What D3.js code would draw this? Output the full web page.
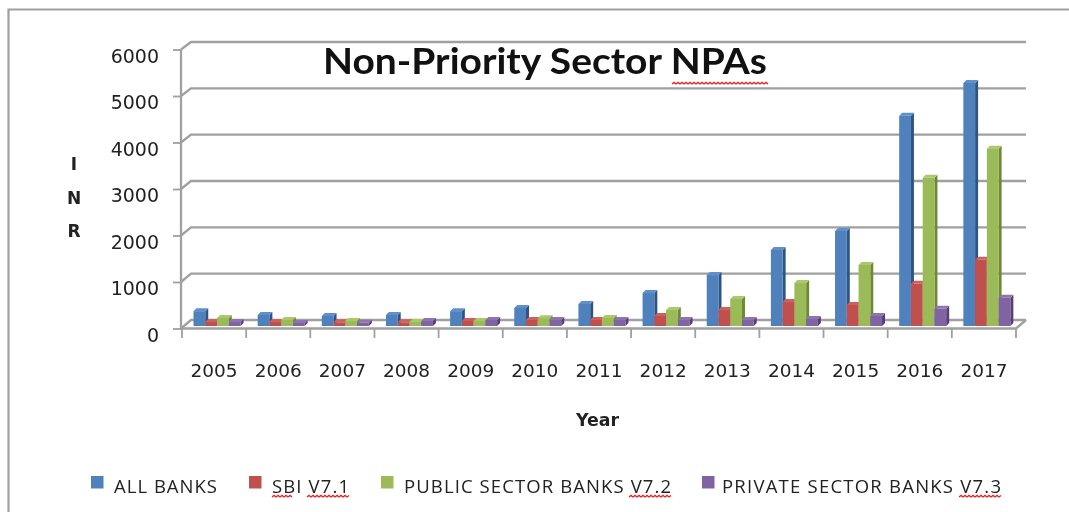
<!DOCTYPE html>
<html><head><meta charset="utf-8">
<script src="https://cdn.jsdelivr.net/npm/d3@7/dist/d3.min.js"></script>
<style>html,body{margin:0;padding:0;background:#fff;overflow:hidden}svg{display:block;filter:blur(.6px)}</style>
</head><body><svg id="c" width="1069" height="512"></svg>
<script>
const years=["2005","2006","2007","2008","2009","2010","2011","2012","2013","2014","2015","2016","2017"];
const allBanks=[320,238,216,238,320,390,475,712,1100,1641,2052,4540,5250];
const sbi=[86,86,80,80,110,130,130,216,345,518,454,910,1430];
const publicSector=[173,130,108,86,110,170,173,345,583,928,1317,3200,3830];
const privateSector=[86,65,70,108,130,130,130,130,130,150,216,370,610];
const seriesNames=["ALL BANKS","SBI V7.1","PUBLIC SECTOR BANKS V7.2","PRIVATE SECTOR BANKS V7.3"];
const seriesValues=[allBanks,sbi,publicSector,privateSector];
const colors=["#4F81BD","#C0504D","#9BBB59","#8064A2"];
const sideColors=["#2f5482","#8a3532","#6c8a35","#553f75"];
const topColors=["#5f90cb","#cc625f","#aac96b","#8f74b0"];
const yTicks=[0,1000,2000,3000,4000,5000,6000];
const titleText="Non-Priority Sector NPAs";
const xTitle="Year", yTitleLetters=["I","N","R"];

const svg=d3.select("#c");
const grid="#a0a0a0";
const yFront=d3.scaleLinear().domain([0,6000]).range([328.5,49.5]);
const yBack=d3.scaleLinear().domain([0,6000]).range([320,42]);
const yBar=d3.scaleLinear().domain([0,6000]).range([326,48.2]);
const x=d3.scaleBand().domain(years).range([182,1016]);
const inner=d3.scaleBand().domain(d3.range(4)).range([11.5,58.5]);

// frame
svg.append("path").attr("d","M1069,9.5H8.5V512").attr("fill","none").attr("stroke","#a0a0a0").attr("stroke-width",2.2);

// walls
const g=svg.append("g");
g.selectAll("path.grid").data(yTicks).join("path").attr("class","grid")
 .attr("d",t=>`M181,${yFront(t)}L191,${yBack(t)}H1026`)
 .attr("fill","none").attr("stroke",grid).attr("stroke-width",2.3);
g.append("path").attr("d",`M181,${yFront(6000)}V${yFront(0)}H1016L1026,${yBack(0)}`)
 .attr("fill","none").attr("stroke",grid).attr("stroke-width",2.3);

// axes
const ax=svg.append("g").attr("transform","translate(181,0)")
 .call(d3.axisLeft(yFront).tickValues(yTicks).tickSize(8).tickPadding(14).tickFormat(d3.format("d")));
ax.select(".domain").remove();
ax.selectAll("line").attr("stroke",grid).attr("stroke-width",1.8);
ax.selectAll("text").attr("font-family","DejaVu Sans").attr("font-size",19).attr("fill","#222").attr("dy","0.68em").attr("dx",0);

const bx=svg.append("g").attr("transform","translate(0,328)")
 .call(d3.axisBottom(x).tickSize(0).tickPadding(36));
bx.select(".domain").remove();
bx.selectAll("line").remove();
bx.selectAll("text").attr("font-family","DejaVu Sans").attr("font-size",18.5).attr("fill","#222");
svg.append("g").selectAll("line").data(years.concat(["end"])).join("line")
 .attr("x1",d=>d==="end"?x.range()[1]:x(d)).attr("x2",d=>d==="end"?x.range()[1]:x(d))
 .attr("y1",328).attr("y2",338).attr("stroke",grid).attr("stroke-width",1.8);

// 3D bars
const cap=3;
const barsData=[];
seriesValues.forEach((vals,s)=>vals.forEach((v,i)=>barsData.push({s,i,v})));
const bars=svg.append("g").selectAll("g").data(barsData).join("g");
const bw=inner.bandwidth();
const X=d=>x(years[d.i])+inner(d.s);
bars.append("path").attr("fill",d=>sideColors[d.s])
 .attr("d",d=>`M${X(d)+bw},${yBar(0)}L${X(d)+bw+cap},${yBar(0)-cap}V${yBar(d.v)-cap}L${X(d)+bw},${yBar(d.v)}Z`);
bars.append("path").attr("fill",d=>topColors[d.s])
 .attr("d",d=>`M${X(d)},${yBar(d.v)}L${X(d)+cap},${yBar(d.v)-cap}H${X(d)+bw+cap}L${X(d)+bw},${yBar(d.v)}Z`);
bars.append("rect").attr("fill",d=>colors[d.s])
 .attr("x",X).attr("width",bw).attr("y",d=>yBar(d.v)).attr("height",d=>yBar(0)-yBar(d.v));

// squiggle helper
function squiggle(x0,x1,y){
 const p=d3.path();p.moveTo(x0,y);let up=true;
 for(let q=x0+2;q<=x1;q+=2){p.lineTo(q,y+(up?-1.6:0));up=!up;}
 svg.append("path").attr("d",p.toString()).attr("fill","none").attr("stroke","#f02020").attr("stroke-width",1.3);
}

// title
svg.append("text").text(titleText).attr("x",323).attr("y",74).attr("font-family","Lato").attr("font-weight",700)
 .attr("font-size",37).attr("fill","#111").attr("textLength",444).attr("lengthAdjust","spacingAndGlyphs");
squiggle(672,768,84);

// axis titles
svg.append("text").text(xTitle).attr("x",576).attr("y",426).attr("font-family","DejaVu Sans").attr("font-weight",700)
 .attr("font-size",18).attr("fill","#222").attr("textLength",43).attr("lengthAdjust","spacingAndGlyphs");
svg.append("g").selectAll("text").data(yTitleLetters).join("text").text(d=>d)
 .attr("x",74).attr("y",(d,i)=>170+i*33.5).attr("text-anchor","middle")
 .attr("font-family","DejaVu Sans").attr("font-weight",700).attr("font-size",17).attr("fill","#222");

// legend
const legX=[91,249,381,702], legT=[114,272,404,722], legL=[103,77,267,279];
const leg=svg.append("g").selectAll("g").data(seriesNames).join("g");
leg.append("rect").attr("x",(d,i)=>legX[i]).attr("y",476).attr("width",12.5).attr("height",12.5).attr("fill",(d,i)=>colors[i]);
leg.append("text").text(d=>d).attr("x",(d,i)=>legT[i]).attr("y",493).attr("font-family","Open Sans").attr("font-size",18.5)
 .attr("fill","#222").attr("textLength",(d,i)=>legL[i]).attr("lengthAdjust","spacing");
squiggle(272,292,497);squiggle(307,349,497);
squiggle(629,671,497);squiggle(959,1001,497);
</script></body></html>
